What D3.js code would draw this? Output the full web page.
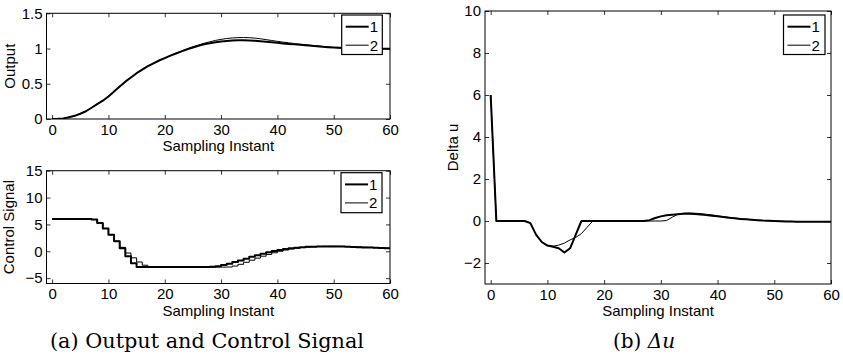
<!DOCTYPE html>
<html><head><meta charset="utf-8">
<script src="https://cdn.jsdelivr.net/npm/d3@7/dist/d3.min.js"></script>
<style>
body{margin:0;background:#fff;}
svg{display:block;background:#fff;}
</style></head><body>
<svg id="chart" width="843" height="357"></svg>
<script>
// ---------- data ----------
const instants = [0,1,2,3,4,5,6,7,8,9,10,11,12,13,14,15,16,17,18,19,20,21,22,23,24,25,26,27,28,29,30,
  31,32,33,34,35,36,37,38,39,40,41,42,43,44,45,46,47,48,49,50,51,52,53,54,55,56,57,58,59,60];
const seriesNames = ["1", "2"];
const xTicks = [0,10,20,30,40,50,60];
const outputTicks = [0,0.5,1,1.5];
const controlTicks = [-5,0,5,10,15];
const deltaTicks = [-2,0,2,4,6,8,10];

const output1 = [0,0.002,0.008,0.025,0.045,0.075,0.11,0.16,0.21,0.26,0.32,0.39,0.46,0.53,0.59,0.65,0.7,0.75,0.79,0.83,
  0.865,0.9,0.93,0.96,0.99,1.015,1.04,1.06,1.075,1.09,1.1,1.108,1.114,1.117,1.117,1.115,1.11,1.104,1.097,1.089,
  1.081,1.073,1.066,1.059,1.052,1.045,1.038,1.031,1.025,1.019,1.014,1.01,1.006,1.003,1.0,0.998,0.997,0.997,0.997,0.998,0.998];
const output2 = [0,0.002,0.008,0.025,0.045,0.075,0.11,0.16,0.21,0.26,0.32,0.39,0.46,0.53,0.59,0.65,0.7,0.75,0.79,0.83,
  0.865,0.9,0.935,0.965,0.995,1.025,1.05,1.075,1.095,1.115,1.13,1.142,1.15,1.155,1.156,1.154,1.148,1.138,1.126,1.114,
  1.102,1.091,1.081,1.071,1.062,1.054,1.046,1.038,1.03,1.022,1.015,1.009,1.004,1.0,0.997,0.995,0.994,0.994,0.995,0.996,0.997];

const control1 = [6,6,6,6,6,6,6,5.9,5.25,4.25,3.08,1.85,0.55,-0.95,-2.25,-2.95,-2.95,-2.95,-2.95,-2.95,
  -2.95,-2.95,-2.95,-2.95,-2.95,-2.95,-2.95,-2.95,-2.9,-2.77,-2.56,-2.3,-2.01,-1.7,-1.37,-1.04,-0.73,-0.44,-0.18,0.05,
  0.25,0.42,0.56,0.67,0.76,0.82,0.86,0.89,0.9,0.9,0.89,0.87,0.84,0.8,0.76,0.72,0.68,0.64,0.6,0.56,0.52];
const control2 = [6,6,6,6,6,6,6,5.9,5.25,4.25,3.08,1.88,0.73,-0.32,-1.22,-2.0,-2.6,-2.95,-2.95,-2.95,
  -2.95,-2.95,-2.95,-2.95,-2.95,-2.95,-2.95,-2.95,-2.95,-2.95,-2.95,-2.93,-2.75,-2.43,-2.05,-1.66,-1.28,-0.92,-0.59,-0.28,
  0.0,0.23,0.42,0.57,0.69,0.78,0.85,0.9,0.93,0.94,0.93,0.91,0.88,0.84,0.8,0.76,0.72,0.68,0.64,0.6,0.56];

const deltaU1 = [6,0,0,0,0,0,0,-0.1,-0.65,-1.0,-1.17,-1.23,-1.3,-1.5,-1.3,-0.65,0,0,0,0,
  0,0,0,0,0,0,0,0,0.04,0.14,0.22,0.27,0.3,0.32,0.34,0.34,0.33,0.31,0.28,0.25,
  0.22,0.19,0.16,0.13,0.1,0.08,0.06,0.04,0.02,0.01,0,-0.01,-0.02,-0.02,-0.03,-0.03,-0.03,-0.03,-0.03,-0.03,-0.03];
const deltaU2 = [6,0,0,0,0,0,0,-0.1,-0.65,-1.0,-1.17,-1.2,-1.15,-1.05,-0.9,-0.78,-0.6,-0.3,0,0,
  0,0,0,0,0,0,0,0,0,0,0,0.02,0.18,0.32,0.37,0.38,0.37,0.35,0.32,0.29,
  0.25,0.21,0.17,0.14,0.11,0.08,0.06,0.04,0.02,0.01,0,-0.01,-0.02,-0.02,-0.03,-0.03,-0.03,-0.03,-0.03,-0.03,-0.03];

// ---------- drawing ----------
const svg = d3.select("#chart");
svg.append("rect").attr("width",843).attr("height",357).attr("fill","#fff");
const SANS = "'Liberation Sans', Arial, Helvetica, sans-serif";
const SERIF = "'DejaVu Serif', 'Liberation Serif', serif";
const FS = 15;
const widths = [2, 1];
const fmt = d3.format("~g");
let clipId = 0;

function panel(cfg) {
  const x = d3.scaleLinear().domain(cfg.xDomain).range(cfg.xRange);
  const y = d3.scaleLinear().domain(cfg.yDomain).range(cfg.yRange);
  const g = svg.append("g");
  const [x0, x1] = cfg.xRange, [yb, yt] = cfg.yRange;

  const id = "clip" + (clipId++);
  g.append("clipPath").attr("id", id).append("rect")
    .attr("x", x0).attr("y", yt).attr("width", x1 - x0).attr("height", yb - yt);

  const styleAxis = sel => {
    sel.select(".domain").remove();
    sel.selectAll("text").attr("font-family", SANS).attr("font-size", FS).attr("fill", "#000");
    sel.selectAll("line").attr("stroke", "#000").attr("stroke-width", 0.8);
    sel.attr("font-family", null).attr("font-size", null);
  };
  g.append("g").attr("transform", `translate(0,${yb})`)
    .call(d3.axisBottom(x).tickValues(xTicks).tickFormat(fmt).tickSizeInner(-4).tickSizeOuter(0).tickPadding(5)).call(styleAxis);
  g.append("g").attr("transform", `translate(0,${yt})`)
    .call(d3.axisTop(x).tickValues(xTicks).tickSizeInner(-4).tickSizeOuter(0).tickFormat(() => "")).call(styleAxis);
  g.append("g").attr("transform", `translate(${x0},0)`)
    .call(d3.axisLeft(y).tickValues(cfg.yTicks).tickFormat(fmt).tickSizeInner(-4).tickSizeOuter(0).tickPadding(4)).call(styleAxis);
  g.append("g").attr("transform", `translate(${x1},0)`)
    .call(d3.axisRight(y).tickValues(cfg.yTicks).tickSizeInner(-4).tickSizeOuter(0).tickFormat(() => "")).call(styleAxis);

  const line = d3.line().x((d, i) => x(instants[i])).y(d => y(d)).curve(cfg.curve);
  const lg = g.append("g").attr("clip-path", `url(#${id})`);
  cfg.series.forEach((s, k) => {
    lg.append("path").datum(s).attr("d", line).attr("fill", "none")
      .attr("stroke", "#000").attr("stroke-width", widths[k]).attr("stroke-linejoin", "round");
  });

  g.append("rect").attr("x", x0).attr("y", yt).attr("width", x1 - x0).attr("height", yb - yt)
    .attr("fill", "none").attr("stroke", "#000").attr("stroke-width", 1);

  // legend
  const L = cfg.legend;
  const leg = g.append("g").attr("transform", `translate(${L.x},${L.y})`);
  leg.append("rect").attr("width", L.w).attr("height", L.h).attr("fill", "#fff")
    .attr("stroke", "#000").attr("stroke-width", 1.2);
  seriesNames.forEach((nm, k) => {
    const yy = 11.7 + k * 18.5;
    leg.append("line").attr("x1", 4).attr("x2", 27).attr("y1", yy).attr("y2", yy)
      .attr("stroke", "#000").attr("stroke-width", widths[k]);
    leg.append("text").attr("x", 28).attr("y", yy).attr("dy", "0.36em")
      .attr("font-family", SANS).attr("font-size", FS).text(nm);
  });

  // labels
  g.append("text").attr("x", (x0 + x1) / 2).attr("y", cfg.xlabelY).attr("text-anchor", "middle")
    .attr("font-family", SANS).attr("font-size", FS).text("Sampling Instant");
  g.append("text").attr("transform", `translate(${cfg.ylabelX},${(yb + yt) / 2}) rotate(-90)`)
    .attr("text-anchor", "middle").attr("dy", "0.36em")
    .attr("font-family", SANS).attr("font-size", FS).text(cfg.ylabel);
}

panel({
  xDomain: [-1, 60], xRange: [46.5, 390], yDomain: [0, 1.5], yRange: [119, 13.3],
  yTicks: outputTicks, series: [output1, output2], curve: d3.curveLinear,
  legend: {x: 341.7, y: 15, w: 40.6, h: 39.5}, xlabelY: 151, ylabel: "Output", ylabelX: 9.5
});
panel({
  xDomain: [-1, 60], xRange: [46.5, 390], yDomain: [-6, 15], yRange: [283.5, 170.7],
  yTicks: controlTicks, series: [control1, control2], curve: d3.curveStepAfter,
  legend: {x: 341, y: 172.7, w: 41, h: 40}, xlabelY: 316, ylabel: "Control Signal", ylabelX: 8.5
});
panel({
  xDomain: [-1, 60], xRange: [485, 831], yDomain: [-3, 10], yRange: [284, 11],
  yTicks: deltaTicks, series: [deltaU1, deltaU2], curve: d3.curveLinear,
  legend: {x: 783.5, y: 15, w: 41.5, h: 39.5}, xlabelY: 316, ylabel: "Delta u", ylabelX: 453
});

// captions
svg.append("text").attr("x", 207).attr("y", 348).attr("text-anchor", "middle")
  .attr("font-family", SERIF).attr("font-size", 20)
  .attr("textLength", 314).attr("lengthAdjust", "spacingAndGlyphs")
  .text("(a) Output and Control Signal");
const cb = svg.append("text").attr("x", 644).attr("y", 348).attr("text-anchor", "middle")
  .attr("font-family", SERIF).attr("font-size", 20);
cb.append("tspan").text("(b) ");
cb.append("tspan").attr("font-style", "italic").text("Δu");
</script>
</body></html>
